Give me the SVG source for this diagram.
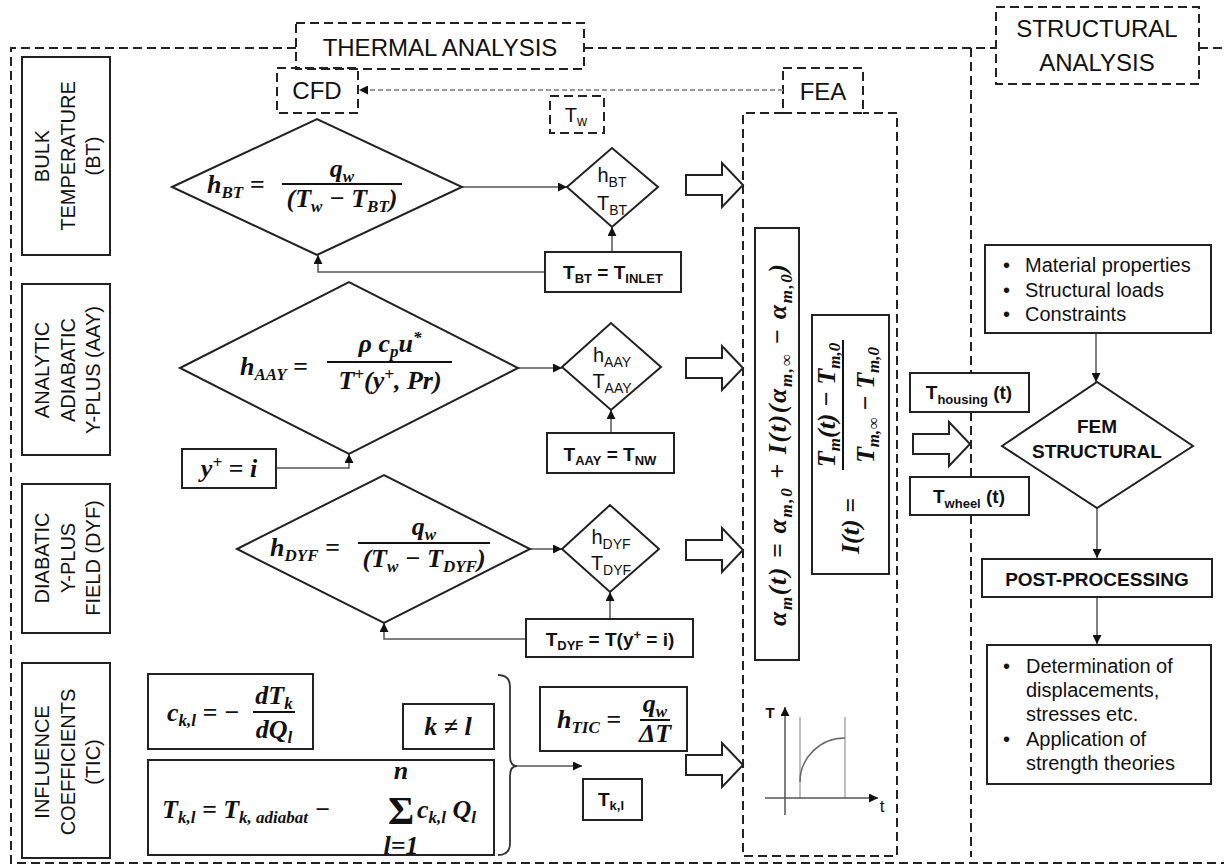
<svg xmlns="http://www.w3.org/2000/svg" width="1224" height="867" viewBox="0 0 1224 867">
<style>
.dash{fill:none;stroke:#222;stroke-width:2;stroke-dasharray:9 5}
.box{fill:#fff;stroke:#222;stroke-width:2}
.conn{fill:none;stroke:#555;stroke-width:1.5}
.lbl{font-family:"Liberation Sans",Arial,sans-serif;font-size:20px;fill:#111}
.big{font-family:"Liberation Sans",Arial,sans-serif;font-size:24px;fill:#111}
.bx{font-family:"Liberation Sans",Arial,sans-serif;font-size:19px;font-weight:bold;fill:#111}
.bs{font-size:13px}
.rs{font-size:14px}
.m{font-family:"Liberation Serif","Times New Roman",serif;font-size:26px;font-weight:bold;font-style:italic;fill:#111}
.ms{font-size:17px}
.frac{stroke:#111;stroke-width:2}
</style>
<defs>
<marker id="ah" viewBox="0 0 10 10" refX="10" refY="5" markerWidth="9" markerHeight="9" markerUnits="userSpaceOnUse" orient="auto"><path d="M0,0 L10,5 L0,10 z" fill="#111"/></marker>
<path id="blk" d="M-57,-10 H-21 V-22 L0,0 L-21,22 V10 H-57 Z" fill="#fff" stroke="#222" stroke-width="2"/>
</defs>
<rect width="1224" height="867" fill="#fff"/>

<!-- frames -->
<g id="frames">
<path class="dash" d="M296,48 H11 V863 H1224"/>
<path class="dash" d="M584,48 H996"/>
<path class="dash" d="M1199,48 H1224"/>
<path class="dash" d="M971,48 V373 M971,412 V477 M971,515 V857"/>
<path class="dash" d="M783,113 H743 V856 H897 V113 H863"/>
</g>

<g id="thermal-title"><rect class="dash" x="296" y="23" width="288" height="46" fill="#fff"/><text class="big" x="440" y="56" text-anchor="middle">THERMAL ANALYSIS</text></g>
<g id="structural-title"><rect class="dash" x="996" y="7" width="203" height="77" fill="#fff"/><text class="big" x="1097" y="37" text-anchor="middle">STRUCTURAL</text><text class="big" x="1097" y="71" text-anchor="middle">ANALYSIS</text></g>
<g id="cfd"><rect class="dash" x="277" y="68" width="81" height="45"/><text class="big" x="317" y="99" text-anchor="middle">CFD</text></g>
<g id="fea"><rect class="dash" x="783" y="68" width="80" height="45"/><text class="big" x="823" y="100" text-anchor="middle">FEA</text></g>
<g id="tw"><rect class="dash" x="550" y="96" width="54" height="37"/><text class="lbl" x="576" y="122" text-anchor="middle">T<tspan class="rs" dy="4">w</tspan></text></g>

<!-- row labels -->
<g id="label-bt"><rect class="box" x="22" y="57" width="88" height="198"/>
<g class="lbl" text-anchor="middle" transform="translate(0,156) rotate(-90)"><text x="0" y="49">BULK</text><text x="0" y="74.5">TEMPERATURE</text><text x="0" y="100">(BT)</text></g></g>
<g id="label-aay"><rect class="box" x="22" y="284" width="88" height="171"/>
<g class="lbl" text-anchor="middle" transform="translate(0,370) rotate(-90)"><text x="0" y="49">ANALYTIC</text><text x="0" y="74.5">ADIABATIC</text><text x="0" y="100">Y-PLUS (AAY)</text></g></g>
<g id="label-dyf"><rect class="box" x="22" y="484" width="88" height="149"/>
<g class="lbl" text-anchor="middle" transform="translate(0,558) rotate(-90)"><text x="0" y="49">DIABATIC</text><text x="0" y="74.5">Y-PLUS</text><text x="0" y="100">FIELD (DYF)</text></g></g>
<g id="label-tic"><rect class="box" x="22" y="663" width="88" height="195"/>
<g class="lbl" text-anchor="middle" transform="translate(0,762) rotate(-90)"><text x="0" y="49">INFLUENCE</text><text x="0" y="74.5">COEFFICIENTS</text><text x="0" y="100">(TIC)</text></g></g>

<!-- connectors -->
<g id="connectors">
<line class="conn" x1="462" y1="187" x2="567" y2="187" marker-end="url(#ah)"/>
<line class="conn" x1="612" y1="252" x2="612" y2="227" marker-end="url(#ah)"/>
<path class="conn" d="M545,272 H318 V255" marker-end="url(#ah)"/>
<line class="conn" x1="518" y1="368" x2="562" y2="368" marker-end="url(#ah)"/>
<line class="conn" x1="611" y1="433" x2="611" y2="410" marker-end="url(#ah)"/>
<path class="conn" d="M276,468 H349 V454" marker-end="url(#ah)"/>
<line class="conn" x1="530" y1="549" x2="562" y2="549" marker-end="url(#ah)"/>
<line class="conn" x1="610" y1="619" x2="610" y2="592" marker-end="url(#ah)"/>
<path class="conn" d="M526,639 H384 V623" marker-end="url(#ah)"/>
<line class="conn" x1="515" y1="766" x2="582" y2="766" marker-end="url(#ah)"/>
<line class="conn" x1="1096" y1="333" x2="1096" y2="382" marker-end="url(#ah)"/>
<line class="conn" x1="1097" y1="508" x2="1097" y2="558" marker-end="url(#ah)"/>
<line class="conn" x1="1097" y1="597" x2="1097" y2="644" marker-end="url(#ah)"/>
<line x1="783" y1="90" x2="359" y2="90" stroke="#999" stroke-width="2" stroke-dasharray="5 3" marker-end="url(#ah)"/>
<path d="M498,675 Q510,675 510,687 V756 Q510,766 517,766 Q510,766 510,776 V843 Q510,855 498,855" fill="none" stroke="#333" stroke-width="1.8"/>
<use href="#blk" x="743" y="185"/>
<use href="#blk" x="743" y="368"/>
<use href="#blk" x="743" y="550"/>
<use href="#blk" x="743" y="765"/>
<use href="#blk" x="970" y="444"/>
</g>

<!-- BT row -->
<g id="bt-formula"><polygon class="box" points="172,187 317,119 462,187 317,255"/>
<text class="m" x="207" y="193">h<tspan class="ms" dy="5">BT</tspan><tspan dy="-5"> =</tspan></text>
<line class="frac" x1="282" y1="184" x2="402" y2="184"/>
<text class="m" x="342" y="177" text-anchor="middle">q<tspan class="ms" dy="5">w</tspan></text>
<text class="m" x="342" y="207" text-anchor="middle">(T<tspan class="ms" dy="5">w</tspan><tspan dy="-5"> − T</tspan><tspan class="ms" dy="5">BT</tspan><tspan dy="-5">)</tspan></text></g>
<g id="bt-out"><polygon class="box" points="567,187 612,148 658,187 612,227"/>
<text class="lbl" x="612" y="182" text-anchor="middle">h<tspan class="rs" dy="5">BT</tspan></text>
<text class="lbl" x="612" y="210" text-anchor="middle">T<tspan class="rs" dy="5">BT</tspan></text></g>
<g id="bt-inlet"><rect class="box" x="545" y="252" width="136" height="40"/>
<text class="bx" x="613" y="279" text-anchor="middle">T<tspan class="bs" dy="4">BT</tspan><tspan dy="-4"> = T</tspan><tspan class="bs" dy="4">INLET</tspan></text></g>

<!-- AAY row -->
<g id="aay-formula"><polygon class="box" points="180,368 349,282 518,368 349,454"/>
<text class="m" x="240" y="375">h<tspan class="ms" dy="5">AAY</tspan><tspan dy="-5"> =</tspan></text>
<line class="frac" x1="327" y1="362" x2="452" y2="362"/>
<text class="m" x="390" y="352" text-anchor="middle">ρ c<tspan class="ms" dy="5">p</tspan><tspan dy="-5">u</tspan><tspan class="ms" dy="-9">*</tspan></text>
<text class="m" x="390" y="389" text-anchor="middle">T<tspan class="ms" dy="-9">+</tspan><tspan dy="9">(y</tspan><tspan class="ms" dy="-9">+</tspan><tspan dy="9">, Pr)</tspan></text></g>
<g id="aay-yplus"><rect class="box" x="182" y="449" width="94" height="39"/>
<text class="m" x="229" y="477" text-anchor="middle" font-size="24">y<tspan class="ms" dy="-9">+</tspan><tspan dy="9"> = i</tspan></text></g>
<g id="aay-out"><polygon class="box" points="562,367 611,323 661,367 611,410"/>
<text class="lbl" x="612" y="362" text-anchor="middle">h<tspan class="rs" dy="5">AAY</tspan></text>
<text class="lbl" x="612" y="388" text-anchor="middle">T<tspan class="rs" dy="5">AAY</tspan></text></g>
<g id="aay-nw"><rect class="box" x="547" y="433" width="127" height="40"/>
<text class="bx" x="610" y="461" text-anchor="middle">T<tspan class="bs" dy="4">AAY</tspan><tspan dy="-4"> = T</tspan><tspan class="bs" dy="4">NW</tspan></text></g>

<!-- DYF row -->
<g id="dyf-formula"><polygon class="box" points="237,549 384,475 530,549 384,623"/>
<text class="m" x="270" y="556">h<tspan class="ms" dy="5">DYF</tspan><tspan dy="-5"> =</tspan></text>
<line class="frac" x1="358" y1="543" x2="490" y2="543"/>
<text class="m" x="424" y="535" text-anchor="middle">q<tspan class="ms" dy="5">w</tspan></text>
<text class="m" x="424" y="567" text-anchor="middle">(T<tspan class="ms" dy="5">w</tspan><tspan dy="-5"> − T</tspan><tspan class="ms" dy="5">DYF</tspan><tspan dy="-5">)</tspan></text></g>
<g id="dyf-out"><polygon class="box" points="562,549 610,505 659,549 610,592"/>
<text class="lbl" x="611" y="544" text-anchor="middle">h<tspan class="rs" dy="5">DYF</tspan></text>
<text class="lbl" x="611" y="570" text-anchor="middle">T<tspan class="rs" dy="5">DYF</tspan></text></g>
<g id="dyf-field"><rect class="box" x="526" y="619" width="167" height="38"/>
<text class="bx" x="610" y="646" text-anchor="middle">T<tspan class="bs" dy="4">DYF</tspan><tspan dy="-4"> = T(y</tspan><tspan class="bs" dy="-7">+</tspan><tspan dy="7"> = i)</tspan></text></g>

<!-- TIC row -->
<g id="tic-c"><rect class="box" x="148" y="674" width="165" height="75"/>
<text class="m" x="167" y="721">c<tspan class="ms" dy="5">k,l</tspan><tspan dy="-5"> = −</tspan></text>
<line class="frac" x1="253" y1="712" x2="295" y2="712"/>
<text class="m" x="274" y="704" text-anchor="middle">dT<tspan class="ms" dy="5">k</tspan></text>
<text class="m" x="274" y="738" text-anchor="middle">dQ<tspan class="ms" dy="5">l</tspan></text></g>
<g id="tic-neq"><rect class="box" x="403" y="704" width="91" height="45"/>
<text class="m" x="448" y="735" text-anchor="middle">k ≠ l</text></g>
<g id="tic-t"><rect class="box" x="148" y="760" width="346" height="95"/>
<text class="m" x="162" y="818">T<tspan class="ms" dy="5">k,l</tspan><tspan dy="-5"> = T</tspan><tspan class="ms" dy="5">k, adiabat</tspan><tspan dy="-5"> −</tspan></text>
<text x="401" y="824" text-anchor="middle" font-family="Liberation Serif, serif" font-weight="bold" font-size="40" fill="#111">Σ</text>
<text class="m" x="401" y="779" text-anchor="middle" font-size="14">n</text>
<text class="m" x="401" y="854" text-anchor="middle" font-size="14">l=1</text>
<text class="m" x="417" y="818">c<tspan class="ms" dy="5">k,l</tspan><tspan dy="-5"> Q</tspan><tspan class="ms" dy="5">l</tspan></text></g>
<g id="tic-h"><rect class="box" x="540" y="687" width="147" height="64"/>
<text class="m" x="557" y="728">h<tspan class="ms" dy="5">TIC</tspan><tspan dy="-5"> =</tspan></text>
<line class="frac" x1="640" y1="720" x2="670" y2="720"/>
<text class="m" x="655" y="712" text-anchor="middle">q<tspan class="ms" dy="5">w</tspan></text>
<text class="m" x="655" y="742" text-anchor="middle">ΔT</text></g>
<g id="tic-tkl"><rect class="box" x="583" y="779" width="59" height="41"/>
<text class="bx" x="611" y="806" text-anchor="middle">T<tspan class="bs" dy="4">k,l</tspan></text></g>

<!-- FEA -->
<g id="fea-alpha"><rect class="box" x="755" y="228" width="44" height="432"/>
<text class="m" text-anchor="middle" transform="translate(786,445) rotate(-90)" textLength="362" lengthAdjust="spacing">α<tspan class="ms" dy="6">m</tspan><tspan dy="-6">(t) = α</tspan><tspan class="ms" dy="6">m,0</tspan><tspan dy="-6"> + I(t)(α</tspan><tspan class="ms" dy="6">m,∞</tspan><tspan dy="-6"> − α</tspan><tspan class="ms" dy="6">m,0</tspan><tspan dy="-6">)</tspan></text></g>
<g id="fea-it"><rect class="box" x="812" y="315" width="77" height="259"/>
<g transform="translate(850,444) rotate(-90)">
<text class="m" x="-110" y="9">I(t) =</text>
<line class="frac" x1="-26" y1="-7" x2="104" y2="-7"/>
<text class="m" x="39" y="-15" text-anchor="middle">T<tspan class="ms" dy="5">m</tspan><tspan dy="-5">(t) − T</tspan><tspan class="ms" dy="5">m,0</tspan></text>
<text class="m" x="39" y="24" text-anchor="middle">T<tspan class="ms" dy="5">m,∞</tspan><tspan dy="-5"> − T</tspan><tspan class="ms" dy="5">m,0</tspan></text>
</g></g>
<g id="fea-graph">
<line x1="800" y1="717" x2="800" y2="798" stroke="#aaa" stroke-width="1.5"/>
<line x1="845" y1="717" x2="845" y2="798" stroke="#aaa" stroke-width="1.5"/>
<path d="M800,782 A45,44 0 0 1 845,738" fill="none" stroke="#666" stroke-width="1.5"/>
<line x1="785" y1="815" x2="785" y2="707" stroke="#555" stroke-width="1.5" marker-end="url(#ah)"/>
<line x1="765" y1="798" x2="878" y2="798" stroke="#555" stroke-width="1.5" marker-end="url(#ah)"/>
<text x="770" y="718" font-family="Liberation Sans, sans-serif" font-size="15" font-weight="bold" fill="#111" text-anchor="middle">T</text>
<text x="882" y="812" font-family="Liberation Sans, sans-serif" font-size="17" fill="#111" text-anchor="middle">t</text>
</g>

<!-- transfer -->
<g id="t-housing"><rect class="box" x="910" y="373" width="119" height="39"/>
<text class="bx" x="969" y="399" text-anchor="middle" font-size="18">T<tspan class="bs" dy="5">housing</tspan><tspan dy="-5"> (t)</tspan></text></g>
<g id="t-wheel"><rect class="box" x="910" y="477" width="119" height="38"/>
<text class="bx" x="969" y="503" text-anchor="middle" font-size="18">T<tspan class="bs" dy="5">wheel</tspan><tspan dy="-5"> (t)</tspan></text></g>

<!-- structural -->
<g id="material"><rect class="box" x="985" y="245" width="226" height="88"/>
<g class="lbl"><text x="1003" y="272">•</text><text x="1025" y="272">Material properties</text>
<text x="1003" y="297">•</text><text x="1025" y="297">Structural loads</text>
<text x="1003" y="321">•</text><text x="1025" y="321">Constraints</text></g></g>
<g id="fem"><polygon class="box" points="1002,446 1097,382 1193,446 1097,508"/>
<text class="bx" x="1097" y="433" text-anchor="middle" font-size="20">FEM</text>
<text class="bx" x="1097" y="458" text-anchor="middle" font-size="20">STRUCTURAL</text></g>
<g id="post"><rect class="box" x="982" y="559" width="230" height="38"/>
<text class="bx" x="1097" y="586" text-anchor="middle" font-size="20">POST-PROCESSING</text></g>
<g id="results"><rect class="box" x="987" y="645" width="224" height="139"/>
<g class="lbl"><text x="1003" y="673">•</text><text x="1026" y="673">Determination of</text>
<text x="1026" y="697">displacements,</text>
<text x="1026" y="721">stresses etc.</text>
<text x="1003" y="746">•</text><text x="1026" y="746">Application of</text>
<text x="1026" y="770">strength theories</text></g></g>
</svg>
